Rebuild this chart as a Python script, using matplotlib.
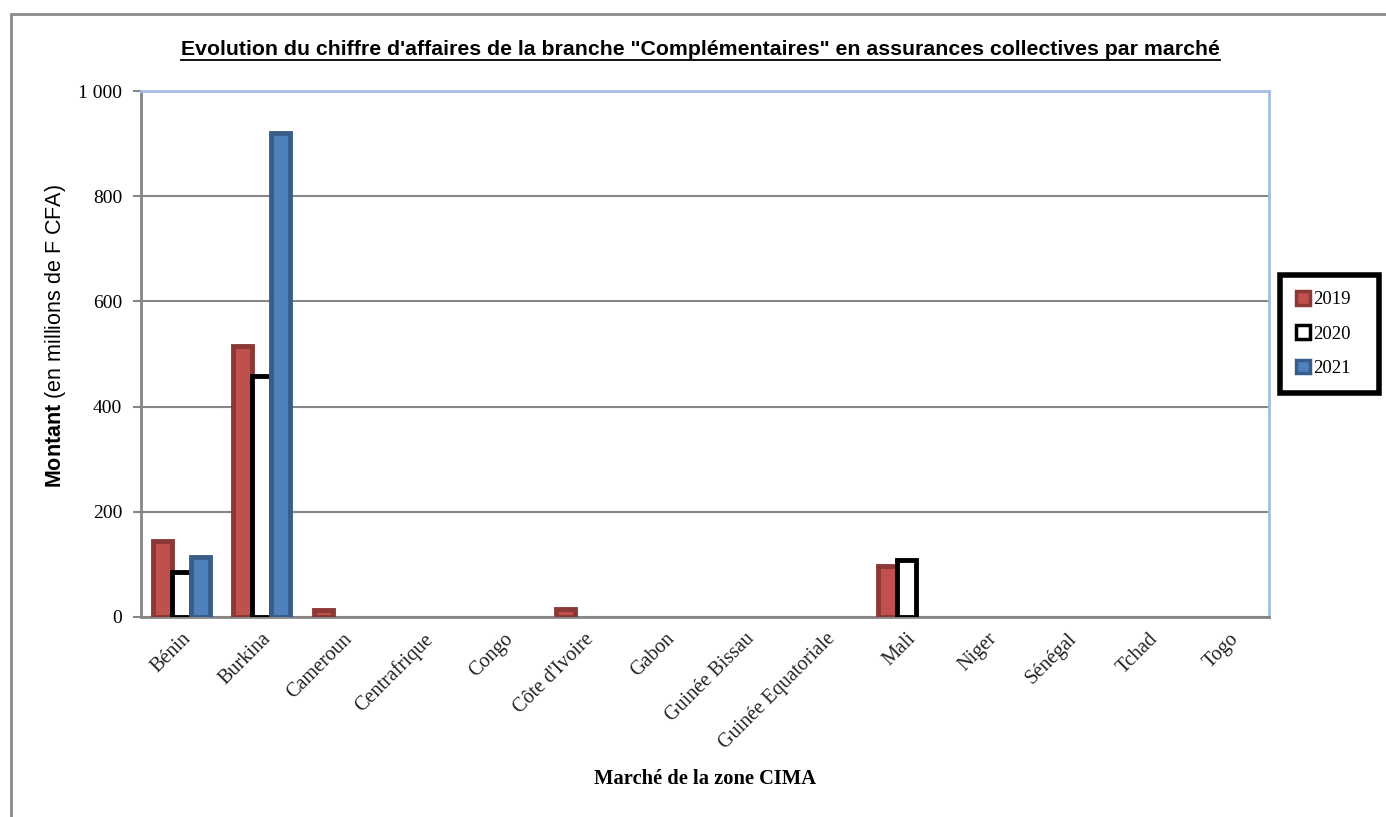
import numpy as np
import matplotlib
matplotlib.use('Agg')
import matplotlib.pyplot as plt
from matplotlib.patches import Rectangle
from matplotlib.ticker import FuncFormatter

# données (en millions de F CFA)
marches = ['Bénin', 'Burkina', 'Cameroun', 'Centrafrique', 'Congo', "Côte d'Ivoire",
           'Gabon', 'Guinée Bissau', 'Guinée Equatoriale', 'Mali', 'Niger',
           'Sénégal', 'Tchad', 'Togo']
ca_2019 = [145, 515, 13, 0, 0, 16, 0, 0, 0, 97, 0, 0, 0, 0]
ca_2020 = [85, 458, 0, 0, 0, 0, 0, 0, 0, 108, 0, 0, 0, 0]
ca_2021 = [114, 920, 0, 0, 0, 0, 0, 0, 0, 0, 0, 0, 0, 0]
annees = ['2019', '2020', '2021']

plt.rcParams['mathtext.fontset'] = 'custom'
plt.rcParams['mathtext.bf'] = 'Liberation Sans:bold'
plt.rcParams['mathtext.rm'] = 'Liberation Sans'

SERIF = 'Liberation Serif'
SANS = 'Liberation Sans'

fig = plt.figure(figsize=(13.86, 8.17), dpi=100)
ax = fig.add_axes([0.1017, 0.2448, 0.8139, 0.6438])

# cadre gris autour du graphique
fig.patches.append(Rectangle((11 / 1386, -0.01), 1.02, (817 - 14) / 817 + 0.01,
                             transform=fig.transFigure, fill=False,
                             edgecolor='#8c8c8c', linewidth=2))

x = np.arange(len(marches))
w = 0.235
styles = [
    dict(color='#C0504D', edgecolor='#8C3836'),
    dict(color='white', edgecolor='black'),
    dict(color='#4F81BD', edgecolor='#385D8A'),
]
for i, (vals, st) in enumerate(zip([ca_2019, ca_2020, ca_2021], styles)):
    v = np.array(vals, dtype=float)
    mask = v > 0
    ax.bar(x[mask] + (i - 1) * w, v[mask], width=w, linewidth=3.5,
           label=annees[i], zorder=3, **st)

ax.set_xlim(-0.5, len(marches) - 0.5)
ax.set_ylim(0, 1000)
ax.set_yticks(np.arange(0, 1001, 200))
ax.yaxis.set_major_formatter(FuncFormatter(lambda v, p: f"{int(v):,}".replace(',', ' ')))
ax.grid(axis='y', color='#868686', linewidth=1.5, zorder=0)

for s in ['top', 'right']:
    ax.spines[s].set_color('#A7BDE3')
    ax.spines[s].set_linewidth(2)
ax.spines['left'].set_color('#868686')
ax.spines['left'].set_linewidth(2)
ax.spines['bottom'].set_color('#868686')
ax.spines['bottom'].set_linewidth(2)

ax.set_xticks(x)
ax.set_xticklabels(marches, rotation=45, ha='right', rotation_mode='anchor',
                   fontsize=14.5, family=SERIF, color='#222222')
ax.tick_params(axis='x', length=0, pad=9)
ax.tick_params(axis='y', length=6, width=1.5, color='#868686', labelsize=14, pad=7.5)
for lab in ax.get_yticklabels():
    lab.set_family(SERIF)

ax.set_ylabel(r'$\bf{Montant}$ (en millions de F CFA)', fontsize=15.5, family=SANS)
ax.yaxis.set_label_coords(-0.065, 0.534)
fig.text(0.5087, 0.046, 'Marché de la zone CIMA', ha='center', va='center',
         fontsize=14.8, fontweight='bold', family=SERIF)

title = fig.text(0.5055, 0.939,
                 "Evolution du chiffre d'affaires de la branche \"Complémentaires\" en assurances collectives par marché",
                 ha='center', va='center', fontsize=15.3, fontweight='bold', family=SANS)

lh = 117 / 526
leg = ax.legend(loc='upper left', bbox_to_anchor=(1.0098, 0.650 - lh, 99 / 1128, lh),
                mode='expand', borderaxespad=0, frameon=True, framealpha=1,
                prop={'family': SERIF, 'size': 13.5}, handlelength=0.75, handleheight=0.75,
                handletextpad=0.15, labelspacing=0.9, borderpad=0.85, fancybox=False)
leg.get_frame().set_edgecolor('black')
leg.get_frame().set_linewidth(4)
for h in leg.legend_handles:
    h.set_linewidth(2.5)

# soulignement du titre
fig.canvas.draw()
bb = title.get_window_extent().transformed(fig.transFigure.inverted())
fig.add_artist(plt.Line2D([bb.x0, bb.x1], [bb.y0 - 0.001, bb.y0 - 0.001],
                          transform=fig.transFigure, color='black', linewidth=1.3))

fig.savefig('out.png', dpi=100)
